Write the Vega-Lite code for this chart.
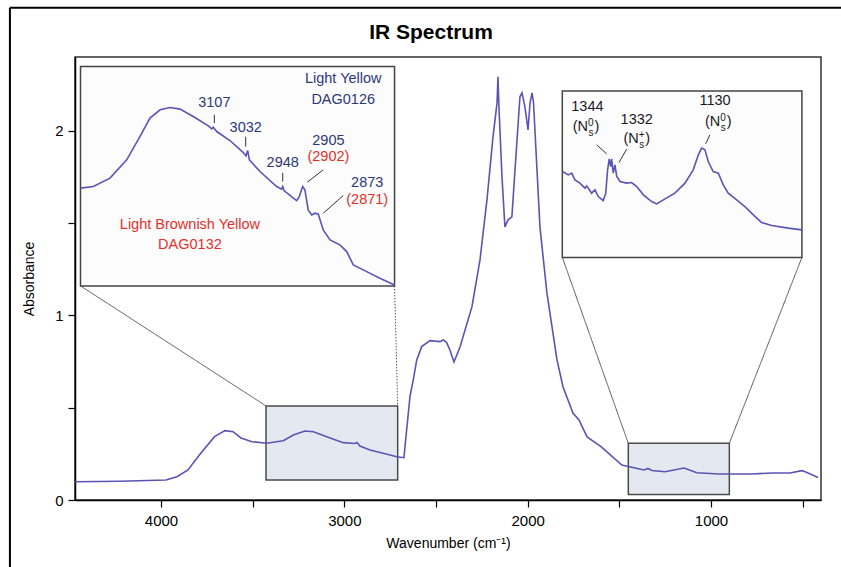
{
  "$schema": "https://vega.github.io/schema/vega-lite/v6.json",
  "width": 746,
  "height": 443,
  "autosize": {"type": "none"},
  "padding": {"left": 75, "top": 57, "right": 20, "bottom": 67},
  "background": "white",
  "title": {"text": "IR Spectrum", "fontSize": 21, "fontWeight": "bold", "font": "Liberation Sans", "anchor": "middle", "dx": -17, "offset": -36, "color": "black"},
  "config": {
    "view": {"stroke": "#333", "strokeWidth": 1.5},
    "font": "Liberation Sans",
    "axis": {"domainColor": "black", "domainWidth": 1.5, "tickColor": "black", "tickWidth": 1.2, "tickSize": 7, "labelFontSize": 15, "labelColor": "black", "titleFontSize": 14, "titleFontWeight": "normal", "titleColor": "black", "grid": false, "labelFont": "Liberation Sans", "titleFont": "Liberation Sans"}
  },
  "datasets": {
    "main": [
      {"x": 4469, "y": 0.0992}, {"x": 4224, "y": 0.1014}, {"x": 3973, "y": 0.1084}, {"x": 3913, "y": 0.1263},
      {"x": 3853, "y": 0.1626}, {"x": 3782, "y": 0.2547}, {"x": 3708, "y": 0.3431}, {"x": 3651, "y": 0.3756},
      {"x": 3607, "y": 0.3702}, {"x": 3564, "y": 0.3360}, {"x": 3504, "y": 0.3160}, {"x": 3424, "y": 0.3073},
      {"x": 3333, "y": 0.3214}, {"x": 3278, "y": 0.3523}, {"x": 3215, "y": 0.3740}, {"x": 3169, "y": 0.3702},
      {"x": 3096, "y": 0.3431}, {"x": 3006, "y": 0.3106}, {"x": 2942, "y": 0.3062}, {"x": 2931, "y": 0.3117},
      {"x": 2915, "y": 0.2927}, {"x": 2860, "y": 0.2710}, {"x": 2788, "y": 0.2531}, {"x": 2714, "y": 0.2347},
      {"x": 2675, "y": 0.2293}, {"x": 2660, "y": 0.3794}, {"x": 2642, "y": 0.5599}, {"x": 2624, "y": 0.6504},
      {"x": 2605, "y": 0.7588}, {"x": 2578, "y": 0.8309}, {"x": 2533, "y": 0.8634}, {"x": 2478, "y": 0.8580},
      {"x": 2460, "y": 0.8672}, {"x": 2442, "y": 0.8526}, {"x": 2424, "y": 0.8130}, {"x": 2402, "y": 0.7480},
      {"x": 2369, "y": 0.8293}, {"x": 2304, "y": 1.0461}, {"x": 2260, "y": 1.3008}, {"x": 2222, "y": 1.6260},
      {"x": 2189, "y": 1.9675}, {"x": 2167, "y": 2.1518}, {"x": 2162, "y": 2.2927}, {"x": 2156, "y": 2.1138},
      {"x": 2140, "y": 1.7507}, {"x": 2124, "y": 1.4797}, {"x": 2107, "y": 1.5176}, {"x": 2086, "y": 1.5339},
      {"x": 2069, "y": 1.7886}, {"x": 2042, "y": 2.1843}, {"x": 2031, "y": 2.2060}, {"x": 2015, "y": 2.1301},
      {"x": 1998, "y": 2.0054}, {"x": 1987, "y": 2.1518}, {"x": 1976, "y": 2.2060}, {"x": 1968, "y": 2.1518},
      {"x": 1933, "y": 1.4797}, {"x": 1895, "y": 1.1220}, {"x": 1840, "y": 0.7588}, {"x": 1807, "y": 0.6125},
      {"x": 1753, "y": 0.4715}, {"x": 1720, "y": 0.4336}, {"x": 1676, "y": 0.3415}, {"x": 1600, "y": 0.2889},
      {"x": 1486, "y": 0.1897}, {"x": 1366, "y": 0.1626}, {"x": 1344, "y": 0.1707}, {"x": 1322, "y": 0.1599},
      {"x": 1251, "y": 0.1534}, {"x": 1147, "y": 0.1734}, {"x": 1077, "y": 0.1480}, {"x": 957, "y": 0.1409},
      {"x": 782, "y": 0.1409}, {"x": 665, "y": 0.1463}, {"x": 569, "y": 0.1463}, {"x": 504, "y": 0.1588},
      {"x": 483, "y": 0.1518}, {"x": 459, "y": 0.1409}, {"x": 416, "y": 0.1220}
    ],
    "insets": [
      {"s": "L", "x": 4438, "y": 1.6894}, {"s": "L", "x": 4369, "y": 1.6981}, {"s": "L", "x": 4278, "y": 1.7436},
      {"s": "L", "x": 4187, "y": 1.8428}, {"s": "L", "x": 4115, "y": 1.9691}, {"s": "L", "x": 4060, "y": 2.0689},
      {"s": "L", "x": 4005, "y": 2.1138}, {"s": "L", "x": 3951, "y": 2.1263}, {"s": "L", "x": 3896, "y": 2.1176},
      {"s": "L", "x": 3824, "y": 2.0775}, {"s": "L", "x": 3742, "y": 2.0271}, {"s": "L", "x": 3723, "y": 2.0109},
      {"s": "L", "x": 3715, "y": 2.0200}, {"s": "L", "x": 3696, "y": 1.9962}, {"s": "L", "x": 3624, "y": 1.9475},
      {"s": "L", "x": 3551, "y": 1.8824}, {"s": "L", "x": 3536, "y": 1.8645}, {"s": "L", "x": 3527, "y": 1.8932},
      {"s": "L", "x": 3518, "y": 1.8428}, {"s": "L", "x": 3460, "y": 1.7794}, {"s": "L", "x": 3369, "y": 1.6981},
      {"s": "L", "x": 3342, "y": 1.6840}, {"s": "L", "x": 3336, "y": 1.6981}, {"s": "L", "x": 3329, "y": 1.6765},
      {"s": "L", "x": 3278, "y": 1.6352}, {"s": "L", "x": 3260, "y": 1.6222}, {"s": "L", "x": 3246, "y": 1.6439},
      {"s": "L", "x": 3227, "y": 1.6981}, {"s": "L", "x": 3215, "y": 1.6802}, {"s": "L", "x": 3197, "y": 1.5718},
      {"s": "L", "x": 3178, "y": 1.5447}, {"s": "L", "x": 3160, "y": 1.5539}, {"s": "L", "x": 3142, "y": 1.5485},
      {"s": "L", "x": 3115, "y": 1.4634}, {"s": "L", "x": 3078, "y": 1.4092}, {"s": "L", "x": 3024, "y": 1.3821},
      {"s": "L", "x": 2987, "y": 1.3458}, {"s": "L", "x": 2951, "y": 1.2737}, {"s": "L", "x": 2878, "y": 1.2374},
      {"s": "L", "x": 2806, "y": 1.2016}, {"s": "L", "x": 2726, "y": 1.1653},
      {"s": "R", "x": 1811, "y": 1.7794}, {"s": "R", "x": 1778, "y": 1.7615}, {"s": "R", "x": 1760, "y": 1.7707},
      {"s": "R", "x": 1742, "y": 1.7344}, {"s": "R", "x": 1715, "y": 1.7166}, {"s": "R", "x": 1687, "y": 1.6894},
      {"s": "R", "x": 1678, "y": 1.7019}, {"s": "R", "x": 1651, "y": 1.6623}, {"s": "R", "x": 1633, "y": 1.6802},
      {"s": "R", "x": 1615, "y": 1.6439}, {"s": "R", "x": 1588, "y": 1.6222}, {"s": "R", "x": 1574, "y": 1.6623},
      {"s": "R", "x": 1564, "y": 1.7886}, {"s": "R", "x": 1555, "y": 1.8483}, {"s": "R", "x": 1547, "y": 1.8065},
      {"s": "R", "x": 1542, "y": 1.8466}, {"s": "R", "x": 1533, "y": 1.7707}, {"s": "R", "x": 1524, "y": 1.8157},
      {"s": "R", "x": 1514, "y": 1.7523}, {"s": "R", "x": 1496, "y": 1.7252}, {"s": "R", "x": 1460, "y": 1.7166},
      {"s": "R", "x": 1433, "y": 1.7198}, {"s": "R", "x": 1405, "y": 1.6981}, {"s": "R", "x": 1369, "y": 1.6531},
      {"s": "R", "x": 1324, "y": 1.6168}, {"s": "R", "x": 1296, "y": 1.6043}, {"s": "R", "x": 1260, "y": 1.6260},
      {"s": "R", "x": 1197, "y": 1.6623}, {"s": "R", "x": 1142, "y": 1.7166}, {"s": "R", "x": 1097, "y": 1.7886},
      {"s": "R", "x": 1069, "y": 1.8699}, {"s": "R", "x": 1051, "y": 1.9062}, {"s": "R", "x": 1033, "y": 1.8970},
      {"s": "R", "x": 1015, "y": 1.8336}, {"s": "R", "x": 988, "y": 1.7794}, {"s": "R", "x": 960, "y": 1.7707},
      {"s": "R", "x": 933, "y": 1.7073}, {"s": "R", "x": 906, "y": 1.6623}, {"s": "R", "x": 860, "y": 1.6260},
      {"s": "R", "x": 815, "y": 1.5897}, {"s": "R", "x": 769, "y": 1.5447}, {"s": "R", "x": 724, "y": 1.5030},
      {"s": "R", "x": 669, "y": 1.4867}, {"s": "R", "x": 579, "y": 1.4727}, {"s": "R", "x": 505, "y": 1.4634}
    ],
    "zoomBoxes": [
      {"x": 3427, "x2": 2709, "y": 0.5095, "y2": 0.1084},
      {"x": 1451, "x2": 900, "y": 0.3073, "y2": 0.0298}
    ],
    "insetBoxes": [
      {"x": 4439, "x2": 2726, "y": 2.3486, "y2": 1.1599},
      {"x": 1811, "x2": 504, "y": 2.2152, "y2": 1.3144}
    ],
    "connectors": [
      {"x": 4439, "y": 1.1599, "x2": 3427, "y2": 0.5095, "style": "solid"},
      {"x": 2726, "y": 1.1599, "x2": 2709, "y2": 0.5095, "style": "dotted"},
      {"x": 1811, "y": 1.3144, "x2": 1451, "y2": 0.3073, "style": "solid"},
      {"x": 504, "y": 1.3144, "x2": 900, "y2": 0.3073, "style": "solid"}
    ],
    "leaders": [
      {"x": 3709, "y": 2.0867, "x2": 3709, "y2": 2.0418},
      {"x": 3538, "y": 1.9675, "x2": 3538, "y2": 1.9149},
      {"x": 3336, "y": 1.7724, "x2": 3336, "y2": 1.7252},
      {"x": 3115, "y": 1.7886, "x2": 3202, "y2": 1.7220},
      {"x": 3006, "y": 1.6493, "x2": 3115, "y2": 1.5539},
      {"x": 1624, "y": 1.9241, "x2": 1569, "y2": 1.8754},
      {"x": 1460, "y": 1.9008, "x2": 1502, "y2": 1.8282},
      {"x": 1006, "y": 1.9783, "x2": 1029, "y2": 1.9296}
    ],
    "labels": [
      {"x": 3006, "y": 2.2802, "text": "Light Yellow", "g": "Light Yellow"},
      {"x": 3006, "y": 2.1680, "text": "DAG0126", "g": "Light Yellow"},
      {"x": 3709, "y": 2.1502, "text": "3107", "g": "Light Yellow"},
      {"x": 3538, "y": 2.0146, "text": "3032", "g": "Light Yellow"},
      {"x": 3336, "y": 1.8249, "text": "2948", "g": "Light Yellow"},
      {"x": 3087, "y": 1.9475, "text": "2905", "g": "Light Yellow"},
      {"x": 3087, "y": 1.8607, "text": "(2902)", "g": "Light Brownish Yellow"},
      {"x": 2875, "y": 1.7166, "text": "2873", "g": "Light Yellow"},
      {"x": 2875, "y": 1.6260, "text": "(2871)", "g": "Light Brownish Yellow"},
      {"x": 3842, "y": 1.4905, "text": "Light Brownish Yellow", "g": "Light Brownish Yellow"},
      {"x": 3842, "y": 1.3821, "text": "DAG0132", "g": "Light Brownish Yellow"},
      {"x": 1674, "y": 2.1265, "text": "1344", "g": "diamond"},
      {"x": 1405, "y": 2.0580, "text": "1332", "g": "diamond"},
      {"x": 978, "y": 2.1630, "text": "1130", "g": "diamond"}
    ],
    "nlabels": [
      {"x": 1682, "y": 2.0200, "sup": "0"},
      {"x": 1405, "y": 1.9550, "sup": "+"},
      {"x": 960, "y": 2.0490, "sup": "0"}
    ],
    "frame": [
      {"x": 4824, "y": 2.667, "x2": 4824, "y2": -0.6},
      {"x": 4824, "y": 2.667, "x2": 100, "y2": 2.667}
    ]
  },
  "encoding": {
    "x": {"field": "x", "type": "quantitative", "scale": {"domain": [400, 4469], "reverse": true, "nice": false, "zero": false},
      "axis": {"title": "Wavenumber (cm⁻¹)", "values": [500, 1000, 1500, 2000, 2500, 3000, 3500, 4000], "format": "d", "labelExpr": "datum.value % 1000 === 0 ? datum.label : ''", "labelPadding": 6, "titlePadding": 8}},
    "y": {"field": "y", "type": "quantitative", "scale": {"domain": [0, 2.4], "nice": false, "zero": false},
      "axis": {"title": "Absorbance", "values": [0, 0.5, 1, 1.5, 2], "labelExpr": "datum.value % 1 === 0 ? format(datum.value, 'd') : ''", "labelPadding": 5, "titlePadding": 18}}
  },
  "layer": [
    {"data": {"name": "frame"}, "mark": {"type": "rule", "color": "black", "strokeWidth": 2}, "encoding": {"x2": {"field": "x2"}, "y2": {"field": "y2"}}},
    {"data": {"name": "zoomBoxes"}, "mark": {"type": "rect", "fill": "#e4e9f1", "stroke": "#4a4a4a", "strokeWidth": 1.5}, "encoding": {"x2": {"field": "x2"}, "y2": {"field": "y2"}}},
    {"data": {"name": "main"}, "mark": {"type": "line", "color": "#5a55b4", "strokeWidth": 1.6}, "encoding": {"order": {"field": "x", "sort": "descending"}}},
    {"data": {"name": "connectors"}, "mark": {"type": "rule", "color": "#555", "strokeWidth": 1},
      "encoding": {"x2": {"field": "x2"}, "y2": {"field": "y2"}, "strokeDash": {"field": "style", "type": "nominal", "scale": {"domain": ["solid", "dotted"], "range": [[1, 0], [1.5, 1.5]]}, "legend": null}}},
    {"data": {"name": "insetBoxes"}, "mark": {"type": "rect", "fill": "#fcfcfd", "stroke": "#444", "strokeWidth": 1.5}, "encoding": {"x2": {"field": "x2"}, "y2": {"field": "y2"}}},
    {"data": {"name": "insets"}, "mark": {"type": "line", "color": "#5a55b4", "strokeWidth": 1.6}, "encoding": {"detail": {"field": "s"}, "order": {"field": "x", "sort": "descending"}}},
    {"data": {"name": "leaders"}, "mark": {"type": "rule", "color": "#333", "strokeWidth": 1}, "encoding": {"x2": {"field": "x2"}, "y2": {"field": "y2"}}},
    {"data": {"name": "labels"}, "mark": {"type": "text", "fontSize": 14.5, "baseline": "middle", "align": "center", "font": "Liberation Sans"},
      "encoding": {"text": {"field": "text"}, "color": {"field": "g", "type": "nominal", "scale": {"domain": ["Light Yellow", "Light Brownish Yellow", "diamond"], "range": ["#2e3878", "#e4302a", "#1a1a1a"]}, "legend": null}}},
    {"data": {"name": "nlabels"}, "mark": {"type": "text", "fontSize": 14.5, "baseline": "middle", "align": "right", "dx": 2, "color": "#1a1a1a", "font": "Liberation Sans", "text": "(N"}},
    {"data": {"name": "nlabels"}, "mark": {"type": "text", "fontSize": 10, "baseline": "middle", "align": "left", "dx": 2, "dy": -4, "color": "#1a1a1a", "font": "Liberation Sans"}, "encoding": {"text": {"field": "sup"}}},
    {"data": {"name": "nlabels"}, "mark": {"type": "text", "fontSize": 10, "baseline": "middle", "align": "left", "dx": 2.5, "dy": 6, "color": "#1a1a1a", "font": "Liberation Sans", "text": "s"}},
    {"data": {"name": "nlabels"}, "mark": {"type": "text", "fontSize": 14.5, "baseline": "middle", "align": "left", "dx": 8.5, "color": "#1a1a1a", "font": "Liberation Sans", "text": ")"}}
  ]
}
